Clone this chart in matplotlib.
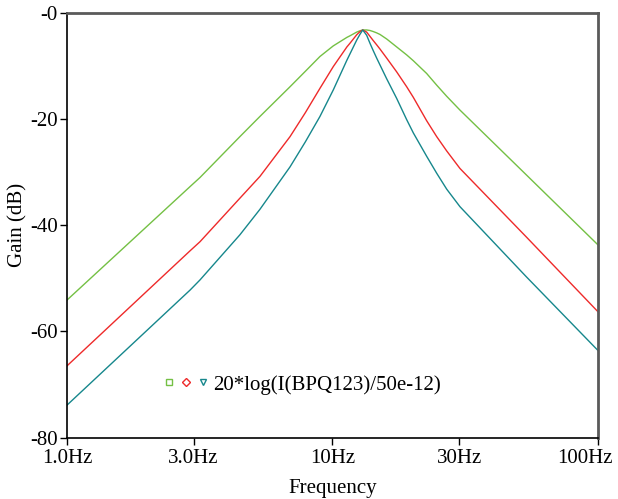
import matplotlib
matplotlib.use("Agg")
import matplotlib.pyplot as plt
from matplotlib.lines import Line2D
from matplotlib.legend_handler import HandlerTuple
from matplotlib.transforms import ScaledTranslation

plt.rcParams['font.family'] = ['Liberation Serif', 'DejaVu Serif']

freq = [1.0, 2.91, 3.17, 4.48, 5.33, 6.92, 7.9, 8.97, 10.07, 11.33, 11.64, 12.34, 12.70,
        13.0, 13.45, 13.84, 14.24, 14.67, 15.10, 16.0, 17.45, 19.03, 20.16, 22.63,
        24.69, 26.93, 30.21, 53.7, 100.0]
gain_green = [-54.1, -32.7, -31.0, -23.3, -19.5, -13.9, -11.0, -8.2, -6.2, -4.6, -4.3, -3.6, -3.35,
              -3.2, -3.2, -3.3, -3.5, -3.75, -4.05, -4.9, -6.4, -7.9, -9.0, -11.4,
              -13.6, -15.7, -18.3, -30.5, -43.7]
gain_red = [-66.5, -44.8, -43.1, -34.9, -30.8, -23.3, -18.8, -14.2, -10.1, -6.4, -5.7, -4.1, -3.5,
            -3.2, -3.6, -4.4, -5.2, -6.0, -6.8, -8.5, -11.1, -13.9, -15.9, -20.3,
            -23.3, -26.0, -29.3, -42.2, -56.3]
gain_teal = [-73.9, -52.2, -50.3, -41.8, -37.0, -29.0, -24.3, -19.5, -14.5, -8.9, -7.7, -5.1, -4.0,
             -3.2, -4.2, -5.7, -7.1, -8.5, -9.8, -12.4, -16.1, -20.1, -22.6, -27.0,
             -30.2, -33.2, -36.5, -49.7, -63.6]

xticks = [1, 3, 10, 30, 100]
xticklabels = ["1.0Hz", "3.0Hz", "10Hz", "30Hz", "100Hz"]
yticks = [0, -20, -40, -60, -80]
yticklabels = ["-0", "-20", "-40", "-60", "-80"]
legend_label = "20*log(I(BPQ123)/50e-12)"

c_green = "#74c044"
c_red = "#ee2a2a"
c_teal = "#16878c"
FS = 15

fig = plt.figure(figsize=(6.18, 4.99), dpi=100)
ax = fig.add_axes([0.1084, 0.1232, 0.8592, 0.8508])

ax.plot(freq, gain_green, color=c_green, lw=1.0)
ax.plot(freq, gain_red, color=c_red, lw=1.0)
ax.plot(freq, gain_teal, color=c_teal, lw=1.0)

ax.set_xscale('log')
ax.set_xlim(1, 100)
ax.set_ylim(-80, 0)
ax.set_xticks(xticks)
ax.set_xticklabels(xticklabels)
ax.minorticks_off()
ax.set_yticks(yticks)
ax.set_yticklabels(yticklabels)
ax.tick_params(axis='both', labelsize=FS, direction='out', length=5, width=1.0, colors='black')
ax.tick_params(axis='x', pad=3)
ax.tick_params(axis='y', pad=1.5)

last = ax.get_xticklabels()[-1]
last.set_horizontalalignment('right')
last.set_transform(last.get_transform() + ScaledTranslation(0.15, 0, fig.dpi_scale_trans))

for s in ['left', 'bottom']:
    ax.spines[s].set_color('black')
    ax.spines[s].set_linewidth(1.2)
for s in ['top', 'right']:
    ax.spines[s].set_color('#5a5a5a')
    ax.spines[s].set_linewidth(2.0)

ax.set_xlabel("Frequency", fontsize=FS, labelpad=8)
ax.set_ylabel("Gain (dB)", fontsize=FS, labelpad=2)

h1 = Line2D([], [], ls='none', marker='s', ms=4, mfc='none', mec=c_green, mew=1.0)
h2 = Line2D([], [], ls='none', marker='D', ms=4, mfc='none', mec=c_red, mew=1.0)
h3 = Line2D([], [], ls='none', marker='v', ms=4, mfc='none', mec=c_teal, mew=1.0)
leg = ax.legend([(h1, h2, h3)], [legend_label],
                handler_map={tuple: HandlerTuple(ndivide=None, pad=0.4)},
                loc='center left', bbox_to_anchor=(0.1846, 0.124), frameon=False,
                fontsize=FS, handlelength=2.0, handletextpad=0.3, borderpad=0,
                borderaxespad=0)

fig.savefig("out.png", dpi=100)
